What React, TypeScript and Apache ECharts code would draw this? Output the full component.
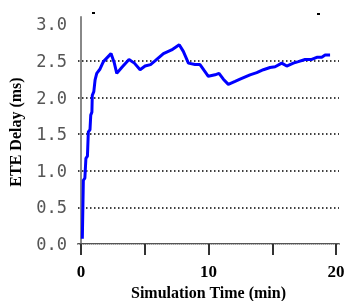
import React, { useEffect, useRef } from "react";
import * as echarts from "echarts";

const timeMin = [0.1, 0.18, 0.3, 0.38, 0.5, 0.57, 0.7, 0.76, 0.85, 0.88, 1.0, 1.1, 1.23, 1.49, 1.75, 2.35, 2.61, 2.8, 3.19, 3.76, 4.18, 4.63, 5.02, 5.45, 5.8, 6.46, 7.1, 7.7, 8.02, 8.42, 8.94, 9.33, 9.65, 9.98, 10.51, 10.82, 11.16, 11.55, 12.08, 12.47, 13.25, 13.78, 14.3, 14.82, 15.22, 15.74, 16.13, 16.65, 17.04, 17.57, 18.09, 18.49, 18.88, 19.14, 19.53];
const delayMs = [0.07, 0.87, 0.9, 1.17, 1.2, 1.53, 1.56, 1.76, 1.8, 2.03, 2.08, 2.24, 2.33, 2.39, 2.49, 2.6, 2.47, 2.33, 2.41, 2.52, 2.47, 2.38, 2.43, 2.45, 2.5, 2.6, 2.65, 2.72, 2.63, 2.47, 2.45, 2.45, 2.37, 2.29, 2.31, 2.33, 2.25, 2.18, 2.22, 2.25, 2.31, 2.34, 2.38, 2.41, 2.42, 2.47, 2.43, 2.47, 2.49, 2.52, 2.52, 2.55, 2.55, 2.58, 2.58];
const yTickValues = [0, 0.5, 1, 1.5, 2, 2.5, 3];
const gridValues = [0.5, 1, 1.5, 2, 2.5];
const xTickValues = [0, 5, 10, 15, 20];
const xLabelValues = [0, 10, 20];

export default function App() {
  const ref = useRef<HTMLDivElement>(null);
  useEffect(() => {
    if (!ref.current) return;
    const chart = echarts.init(ref.current, null, { renderer: "svg" });
    const serif = "'Liberation Serif', 'Times New Roman', serif";
    chart.setOption({
      animation: false,
      grid: { left: 78, right: 7, top: 17, bottom: 54, containLabel: false, outerBoundsMode: "none" },
      xAxis: [
        {
          type: "value",
          min: -0.24,
          max: 20.23,
          name: "Simulation Time (min)",
          nameLocation: "middle",
          nameGap: 34,
          nameTextStyle: { fontFamily: serif, fontWeight: "bold", fontSize: 16, color: "#000" },
          axisLine: { show: true, lineStyle: { color: "#555", width: 2 } },
          axisTick: { show: true, customValues: xTickValues, length: 11, lineStyle: { color: "#333", width: 2 } },
          axisLabel: {
            customValues: xLabelValues,
            margin: 16,
            fontFamily: serif,
            fontWeight: "bold",
            fontSize: 17,
            color: "#000",
          },
          splitLine: { show: false },
        },
        {
          type: "value",
          position: "top",
          min: -0.24,
          max: 20.23,
          axisLine: { show: true, lineStyle: { color: "#ccc", width: 1, type: "dotted" } },
          axisTick: { show: false },
          axisLabel: { show: false },
          splitLine: { show: false },
        },
      ],
      yAxis: [
        {
          type: "value",
          min: -0.042,
          max: 3.1,
          name: "ETE Delay (ms)",
          nameLocation: "middle",
          nameGap: 55,
          nameTextStyle: { fontFamily: serif, fontWeight: "bold", fontSize: 16, color: "#000" },
          axisLine: { show: true, lineStyle: { color: "#ddd", width: 1 } },
          axisTick: { show: false },
          axisLabel: {
            customValues: yTickValues,
            formatter: (v: number) => v.toFixed(1),
            margin: 11,
            padding: [0, 0, 7, 0],
            fontFamily: "'DejaVu Sans Mono', monospace",
            fontSize: 17,
            color: "#555",
          },
          splitLine: { show: false },
        },
        {
          type: "value",
          position: "right",
          min: -0.042,
          max: 3.1,
          axisLine: { show: true, lineStyle: { color: "#888", width: 2 } },
          axisTick: { show: false },
          axisLabel: { show: false },
          splitLine: { show: false },
        },
      ],
      graphic: [
        { type: "rect", shape: { x: 92, y: 12, width: 3, height: 2 }, style: { fill: "#000" } },
        { type: "rect", shape: { x: 317, y: 13, width: 3, height: 2 }, style: { fill: "#000" } },
      ],
      series: [
        {
          type: "line",
          data: timeMin.map((t, i) => [t, delayMs[i]]),
          showSymbol: false,
          lineStyle: { color: "#0000ff", width: 3 },
          z: 3,
          markLine: {
            silent: true,
            symbol: ["none", "none"],
            label: { show: false },
            lineStyle: { color: "#000", width: 1.5, type: [1.5, 2.5] },
            data: gridValues.map((v) => ({ yAxis: v })),
            z: 1,
          },
        },
      ],
    });
    return () => chart.dispose();
  }, []);
  return <div ref={ref} style={{ position: "fixed", left: 0, top: 0, width: 346, height: 301 }} />;
}
